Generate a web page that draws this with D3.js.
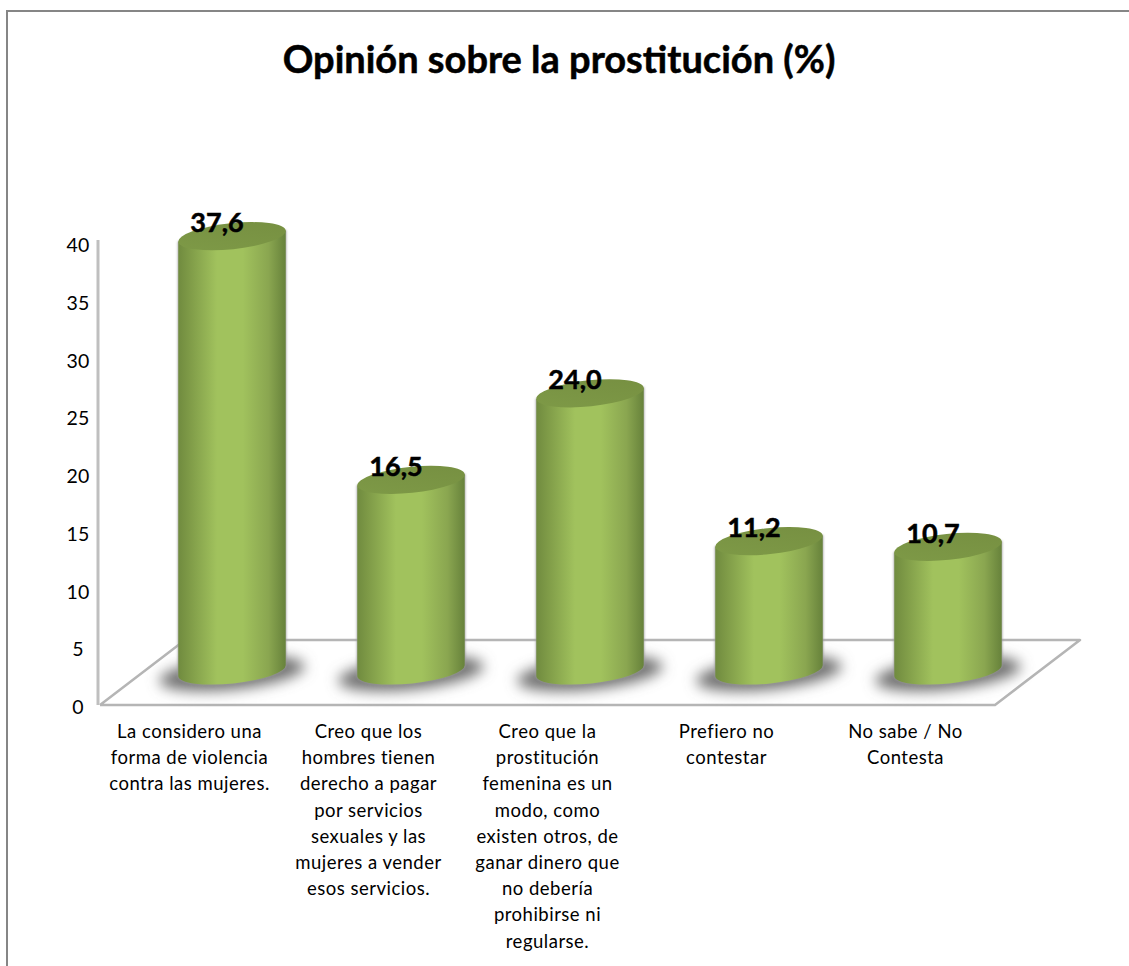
<!DOCTYPE html>
<html lang="es">
<head>
<meta charset="utf-8">
<title>Opinión sobre la prostitución (%)</title>
<script src="https://cdn.jsdelivr.net/npm/d3@7/dist/d3.min.js"></script>
<style>
  html, body { margin: 0; padding: 0; background: #fff; overflow: hidden; }
  svg { display: block; }
  text { font-family: Lato, "Open Sans", sans-serif; fill: #000; }
</style>
</head>
<body>
<svg id="chart" width="1129" height="966"></svg>
<script>
const categories = [
  "La considero una forma de violencia contra las mujeres.",
  "Creo que los hombres tienen derecho a pagar por servicios sexuales y las mujeres a vender esos servicios.",
  "Creo que la prostitución femenina es un modo, como existen otros, de ganar dinero que no debería prohibirse ni regularse.",
  "Prefiero no contestar",
  "No sabe / No Contesta"
];
const categoryLines = [
  ["La considero una", "forma de violencia", "contra las mujeres."],
  ["Creo que los", "hombres tienen", "derecho a pagar", "por servicios", "sexuales y las", "mujeres a vender", "esos servicios."],
  ["Creo que la", "prostitución", "femenina es un", "modo, como", "existen otros, de", "ganar dinero que", "no debería", "prohibirse ni", "regularse."],
  ["Prefiero no", "contestar"],
  ["No sabe / No", "Contesta"]
];
const values = [37.6, 16.5, 24.0, 11.2, 10.7];
const tickValues = [0, 5, 10, 15, 20, 25, 30, 35, 40];
const chartTitle = "Opinión sobre la prostitución (%)";

const svg = d3.select("#chart");
const defs = svg.append("defs");

// Front plane of the 3-D plot box and the depth vector of its floor.
const plot = { left: 100, right: 995, top: 243, bottom: 705 };
const depth = { x: 85, y: -65 };
const mid = { x: depth.x / 2, y: depth.y / 2 - 2 };

const x = d3.scaleBand().domain(d3.range(categories.length)).range([plot.left, plot.right]).padding(0);
const y = d3.scaleLinear().domain([0, 40]).range([plot.bottom, plot.top]);

const cylW = 108, rx = cylW / 2, ry = 13, tilt = -6;

const side = defs.append("linearGradient").attr("id", "cylSide");
[[0, "#708b3f"], [0.1, "#7e9a47"], [0.36, "#a1c25d"], [0.6, "#a1c25d"], [0.84, "#8aa650"], [1, "#67823b"]]
  .forEach(([o, c]) => side.append("stop").attr("offset", o).attr("stop-color", c));

const cap = defs.append("linearGradient").attr("id", "cylCap").attr("x1", 0).attr("y1", 1).attr("x2", 1).attr("y2", 0);
[[0, "#7e9a47"], [1, "#768f41"]].forEach(([o, c]) => cap.append("stop").attr("offset", o).attr("stop-color", c));

defs.append("filter").attr("id", "soft").attr("x", "-30%").attr("y", "-80%").attr("width", "160%").attr("height", "260%")
  .append("feGaussianBlur").attr("stdDeviation", 7);
defs.append("filter").attr("id", "edge").attr("x", "-10%").attr("y", "-10%").attr("width", "120%").attr("height", "120%")
  .append("feGaussianBlur").attr("stdDeviation", 1);

// Chart frame, clipped by the bottom edge of the page.
svg.append("path").attr("d", "M7,966V11H1129").attr("fill", "none").attr("stroke", "#868686").attr("stroke-width", 2);

const wallColor = "#bfbfbf";
const floorColor = "#b5b5b5";

// Side wall and floor outline.
const wall = svg.append("g").attr("fill", "none");
wall.append("line").attr("x1", plot.left - 2).attr("x2", plot.left - 2).attr("y1", 240).attr("y2", plot.bottom)
  .attr("stroke", wallColor).attr("stroke-width", 3);
wall.append("path")
  .attr("d", d3.line()([
    [plot.left, plot.bottom],
    [plot.right, plot.bottom],
    [plot.right + depth.x, plot.bottom + depth.y],
    [plot.left + depth.x, plot.bottom + depth.y],
    [plot.left, plot.bottom]
  ]))
  .attr("stroke", floorColor).attr("stroke-width", 2.5).attr("stroke-linejoin", "round");

// Value axis labels.
const yAxis = d3.axisLeft(y).tickValues(tickValues).tickSize(0).tickPadding(20);
svg.append("g").attr("transform", `translate(${plot.left - 2},0)`).call(yAxis)
  .call(g => g.select(".domain").remove())
  .call(g => g.selectAll("text").attr("font-size", 19.5).attr("font-family", "Lato").attr("fill", "#000")
    .attr("text-anchor", "middle").attr("dx", 0).attr("dy", "0.44em").attr("letter-spacing", 0.3));

// Cylinders: ground shadow, body, cap.
const cx = i => x(i) + x.bandwidth() / 2 + mid.x;
const base = plot.bottom + mid.y;
const bars = svg.append("g").selectAll("g").data(values).join("g")
  .attr("transform", (d, i) => `translate(${cx(i)},0)`);

bars.append("ellipse").attr("cx", 0).attr("cy", base + 3).attr("rx", rx + 19).attr("ry", ry + 3)
  .attr("transform", `rotate(${tilt} 0 ${base + 3})`)
  .attr("fill", "#6e6e6e").attr("filter", "url(#soft)");

const rad = tilt * Math.PI / 180;
const dxE = rx * Math.cos(rad), dyE = rx * Math.sin(rad);
const bodyPath = d => {
  const top = y(d) + mid.y;
  return `M${-dxE},${top - dyE}L${-dxE},${base - dyE}` +
    `A${rx},${ry} ${tilt} 0 0 ${dxE},${base + dyE}` +
    `L${dxE},${top + dyE}Z`;
};
bars.append("path").attr("d", bodyPath).attr("fill", "#999").attr("stroke", "#999").attr("filter", "url(#edge)");
bars.append("path").attr("d", bodyPath).attr("fill", "url(#cylSide)");
bars.append("ellipse").attr("cx", 0).attr("cy", d => y(d) + mid.y).attr("rx", rx).attr("ry", ry)
  .attr("transform", d => `rotate(${tilt} 0 ${y(d) + mid.y})`)
  .attr("fill", "url(#cylCap)");

// Value labels, decimal comma as printed.
const fmt = d => d.toFixed(1).replace(".", ",");
bars.append("text").text(fmt)
  .attr("x", -15).attr("y", d => y(d) + mid.y - 4)
  .attr("text-anchor", "middle").attr("font-size", 27).attr("font-weight", 700)
  .attr("stroke", "#000").attr("stroke-width", 0.5);

// Category labels.
svg.append("g").selectAll("text").data(categoryLines).join("text")
  .attr("text-anchor", "middle").attr("font-size", 18.5).attr("letter-spacing", 0.5)
  .each(function (lines, i) {
    d3.select(this).selectAll("tspan").data(lines).join("tspan")
      .attr("x", x(i) + x.bandwidth() / 2)
      .attr("y", (l, k) => 738 + k * 26.2)
      .text(l => l);
  });

// Title.
svg.append("text").text(chartTitle)
  .attr("x", 559).attr("y", 73).attr("text-anchor", "middle")
  .attr("font-size", 38).attr("font-weight", 700)
  .attr("stroke", "#000").attr("stroke-width", 0.5);
</script>
</body>
</html>
